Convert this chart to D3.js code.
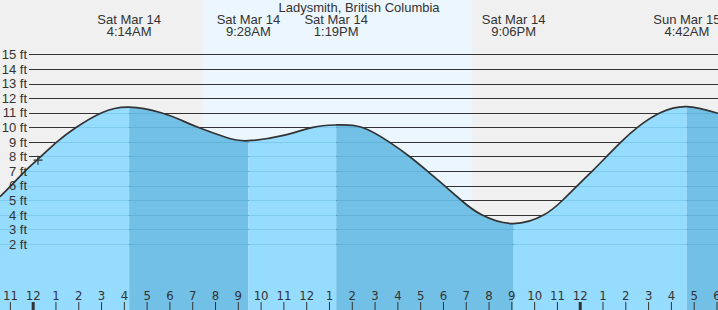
<!DOCTYPE html>
<html>
<head>
<meta charset="utf-8">
<script src="https://cdn.jsdelivr.net/npm/d3@7"></script>
<style>
  body { margin: 0; background: #fff; }
  svg { display: block; font-family: "Liberation Sans", Arial, sans-serif; }
</style>
</head>
<body>
<div id="chart"></div>
<script>
/* CONSTANTS AND GLOBALS */
const width = 718;
const height = 310;

const title = "Ladysmith, British Columbia";

// tide curve (local time, feet)
const tideTimes = [
  "2020-03-13 22:34", "2020-03-13 23:03", "2020-03-13 23:40", "2020-03-14 00:22",
  "2020-03-14 01:04", "2020-03-14 01:55", "2020-03-14 03:02", "2020-03-14 04:14",
  "2020-03-14 05:38", "2020-03-14 06:30", "2020-03-14 07:15", "2020-03-14 08:30",
  "2020-03-14 09:28", "2020-03-14 11:00", "2020-03-14 12:18", "2020-03-14 13:19",
  "2020-03-14 14:26", "2020-03-14 15:38", "2020-03-14 16:32", "2020-03-14 17:19",
  "2020-03-14 18:04", "2020-03-14 18:48", "2020-03-14 19:42", "2020-03-14 21:06",
  "2020-03-14 22:26", "2020-03-14 23:15", "2020-03-14 23:54", "2020-03-15 00:33",
  "2020-03-15 01:11", "2020-03-15 01:49", "2020-03-15 02:32", "2020-03-15 03:32",
  "2020-03-15 04:42", "2020-03-15 06:04"
];
const tideHeights = [
  5.24, 6, 7, 8,
  9, 10, 11, 11.38,
  11, 10.5, 10, 9.3,
  9.08, 9.45, 10, 10.16,
  10, 9, 8, 7,
  6, 5, 4, 3.4,
  4, 5, 6, 7,
  8, 9, 10, 11,
  11.42, 10.96
];

// high / low tides
const extremeTimes = ["2020-03-14 04:14", "2020-03-14 09:28", "2020-03-14 13:19", "2020-03-14 21:06", "2020-03-15 04:42"];
const extremeTypes = ["H", "L", "H", "L", "H"];
const extremeDays = ["Sat Mar 14", "Sat Mar 14", "Sat Mar 14", "Sat Mar 14", "Sun Mar 15"];
const extremeLabels = ["4:14AM", "9:28AM", "1:19PM", "9:06PM", "4:42AM"];

const sunrise = "2020-03-14 07:29";
const sunset = "2020-03-14 19:17";

const nowTime = "2020-03-14 00:14";
const nowHeight = 7.75;

const feetTicks = [2, 3, 4, 5, 6, 7, 8, 9, 10, 11, 12, 13, 14, 15];

const parse = d3.timeParse("%Y-%m-%d %H:%M");
const data = tideTimes.map((t, i) => ({ time: parse(t), ft: tideHeights[i] }));
const extremes = extremeTimes.map((t, i) => ({ time: parse(t), type: extremeTypes[i], day: extremeDays[i], label: extremeLabels[i] }));

/* SCALES */
const xScale = d3.scaleTime()
  .domain(d3.extent(data, d => d.time))
  .range([0, width]);

const yScale = d3.scaleLinear()
  .domain([0, 15])
  .range([273.2, 54.35]);

/* HTML ELEMENTS */
const svg = d3.select("#chart")
  .append("svg")
  .attr("width", width)
  .attr("height", height);

// night / day background
svg.append("rect")
  .attr("width", width).attr("height", height)
  .attr("fill", "#f0f0f0");
svg.append("rect")
  .attr("x", xScale(parse(sunrise)))
  .attr("width", xScale(parse(sunset)) - xScale(parse(sunrise)))
  .attr("height", height)
  .attr("fill", "#ecf6ff");

// gridlines above the water
svg.append("g")
  .selectAll("line")
  .data(feetTicks)
  .join("line")
  .attr("x1", 29).attr("x2", width)
  .attr("y1", d => Math.round(yScale(d)) + 0.5)
  .attr("y2", d => Math.round(yScale(d)) + 0.5)
  .attr("stroke", "#333")
  .attr("stroke-width", 1.2);

// water
const curve = d3.curveNatural;
const area = d3.area()
  .x(d => xScale(d.time))
  .y0(height)
  .y1(d => yScale(d.ft))
  .curve(curve);

svg.append("clipPath").attr("id", "water")
  .append("path").attr("d", area(data));

// rising / falling bands
const edges = [xScale.domain()[0], ...extremes.map(d => d.time), xScale.domain()[1]];
const bands = d3.pairs(edges).map(([a, b], i) => ({
  a, b,
  falling: i > 0 ? extremes[i - 1].type === "H" : extremes[0].type === "L"
}));

const water = svg.append("g").attr("clip-path", "url(#water)");
water.selectAll("rect")
  .data(bands)
  .join("rect")
  .attr("x", d => xScale(d.a))
  .attr("width", d => xScale(d.b) - xScale(d.a))
  .attr("height", height)
  .attr("fill", d => d.falling ? "#72c0e6" : "#96dcff");

water.selectAll("line")
  .data(feetTicks)
  .join("line")
  .attr("x1", 0).attr("x2", width)
  .attr("y1", d => Math.round(yScale(d)) + 0.5)
  .attr("y2", d => Math.round(yScale(d)) + 0.5)
  .attr("stroke", "rgba(0,100,160,0.15)")
  .attr("stroke-width", 1.2);

// feet labels
svg.append("g")
  .selectAll("text")
  .data(feetTicks)
  .join("text")
  .attr("x", 27)
  .attr("y", d => yScale(d))
  .attr("dy", "0.36em")
  .attr("text-anchor", "end")
  .attr("font-size", "13px")
  .attr("fill", "#333")
  .text(d => d + " ft");

// tide line
const line = d3.line()
  .x(d => xScale(d.time))
  .y(d => yScale(d.ft))
  .curve(curve);

svg.append("path")
  .attr("d", line(data))
  .attr("fill", "none")
  .attr("stroke", "#333")
  .attr("stroke-width", 1.7);

// current time marker
const nx = xScale(parse(nowTime)), ny = yScale(nowHeight);
svg.append("path")
  .attr("d", `M${nx - 4.5},${ny}H${nx + 4.5}M${nx},${ny - 4.5}V${ny + 4.5}`)
  .attr("stroke", "#333")
  .attr("stroke-width", 1.2);

// title and extreme labels
svg.append("text")
  .attr("x", width / 2).attr("y", 12)
  .attr("text-anchor", "middle")
  .attr("font-size", "13px")
  .attr("fill", "#333")
  .text(title);

const lbl = svg.append("g")
  .selectAll("text")
  .data(extremes)
  .join("text")
  .attr("x", d => xScale(d.time))
  .attr("text-anchor", "middle")
  .attr("font-size", "13px")
  .attr("fill", "#333");
lbl.append("tspan").attr("x", d => xScale(d.time)).attr("y", 24).text(d => d.day);
lbl.append("tspan").attr("x", d => xScale(d.time)).attr("y", 36).text(d => d.label);

// hour axis
const xAxis = d3.axisBottom(xScale)
  .ticks(d3.timeHour.every(1))
  .tickFormat(d3.timeFormat("%-I"))
  .tickSize(8);

const ax = svg.append("g")
  .attr("transform", "translate(0,302)")
  .call(xAxis);
ax.select(".domain").remove();
ax.selectAll("line")
  .attr("stroke", "#333")
  .attr("stroke-width", d => d.getHours() === 0 ? 3 : 1);
ax.selectAll("text")
  .attr("y", -2)
  .attr("dy", 0)
  .attr("fill", "#333")
  .attr("font-size", "13px")
  .attr("font-family", "'Liberation Sans Narrow', 'DejaVu Sans Condensed', sans-serif");
</script>
</body>
</html>
